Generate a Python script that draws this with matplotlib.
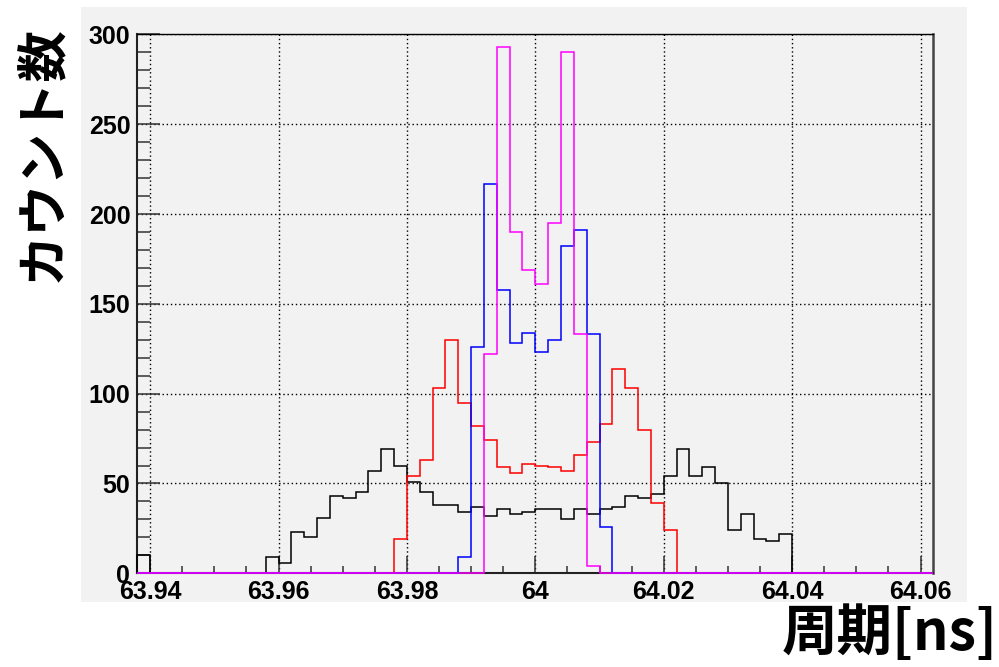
import numpy as np
import matplotlib.pyplot as plt
from matplotlib.patches import Rectangle
from matplotlib.ticker import MultipleLocator

# Histogram binning: 62 bins of 0.002 ns
x_min, x_max, n_bins = 63.938, 64.062, 62

# Counts per bin
counts_black = [10, 0, 0, 0, 0, 0, 0, 0, 0, 0,
                9, 6, 23, 20, 31, 43, 42, 45, 57, 69,
                60, 51, 45, 38, 38, 34, 37, 32, 36, 33,
                34, 36, 36, 30, 36, 33, 36, 37, 43, 42,
                44, 54, 69, 54, 59, 50, 24, 33, 19, 18,
                22, 0, 0, 0, 0, 0, 0, 0, 0, 0,
                0, 0]
counts_red = [0] * 20 + [19, 54, 63, 103, 130, 95, 82, 74, 59, 56,
                         61, 60, 59, 57, 66, 73, 83, 114, 103, 80,
                         39, 24] + [0] * 20
counts_blue = [0] * 25 + [9, 126, 217, 158, 128, 134, 123, 130, 182, 191,
                          133, 26] + [0] * 25
counts_magenta = [0] * 27 + [122, 293, 190, 169, 161, 195, 290, 133, 4] + [0] * 26

series = [
    (counts_black, "#000000"),
    (counts_red, "#ff0000"),
    (counts_blue, "#0000ff"),
    (counts_magenta, "#ff00ff"),
]

x_ticks = [63.94, 63.96, 63.98, 64.0, 64.02, 64.04, 64.06]
x_ticklabels = ["63.94", "63.96", "63.98", "64", "64.02", "64.04", "64.06"]
y_ticks = [0, 50, 100, 150, 200, 250, 300]

xlabel = "周期[ns]"
ylabel = "カウント数"

panel_color = "#f2f2f2"
cjk = ["Noto Sans CJK JP", "DejaVu Sans"]

fig = plt.figure(figsize=(9.99, 6.67), dpi=100)

# grey pad behind the frame (ROOT canvas style)
fig.patches.append(
    Rectangle((0.0811, 0.0975), 0.8869, 0.892, transform=fig.transFigure,
              facecolor=panel_color, edgecolor="none", zorder=-10)
)

ax = fig.add_axes([0.1374, 0.1405, 0.7969, 0.8078])
ax.set_zorder(1)
ax.set_facecolor(panel_color)

edges = np.linspace(x_min, x_max, n_bins + 1)
for counts, color in series:
    ax.stairs(counts, edges, color=color, linewidth=1.1, baseline=0,
              clip_on=False, zorder=4)

ax.set_xlim(x_min, x_max)
ax.set_ylim(0, 300)

ax.set_xticks(x_ticks)
ax.set_xticklabels(x_ticklabels)
ax.set_yticks(y_ticks)
ax.xaxis.set_minor_locator(MultipleLocator(0.005))
ax.yaxis.set_minor_locator(MultipleLocator(10))

ax.tick_params(axis="x", which="major", direction="in", length=12.6, width=1.1,
               color="#333333", pad=5)
ax.tick_params(axis="x", which="minor", direction="in", length=5.4, width=1.1,
               color="#333333")
ax.tick_params(axis="y", which="major", direction="in", length=16.5, width=1.1,
               color="#333333", pad=5)
ax.tick_params(axis="y", which="minor", direction="in", length=9, width=1.1,
               color="#333333")

for lab in ax.get_xticklabels() + ax.get_yticklabels():
    lab.set_fontfamily("Liberation Sans")
    lab.set_fontweight("bold")
    lab.set_fontsize(18)

ax.grid(True, which="major", color="black", linestyle=(0, (1, 2)), linewidth=1.0)
ax.set_axisbelow(True)

for side in ["left", "bottom"]:
    ax.spines[side].set_linewidth(1.5)
    ax.spines[side].set_color("#222222")
ax.spines["top"].set_linewidth(1.0)
ax.spines["right"].set_linewidth(1.8)
ax.spines["right"].set_color("#444444")

# axis titles, placed like ROOT (y at top, x at right)
fig.text(43 / 999, 1 - 25 / 667, ylabel, rotation=90, ha="center", va="top",
         fontsize=37, fontweight="bold", family=cjk)
fig.text(998 / 999, 1 - 634 / 667, xlabel, ha="right", va="center",
         fontsize=40, fontweight="bold", family=cjk)

plt.savefig("out.png", dpi=100)
